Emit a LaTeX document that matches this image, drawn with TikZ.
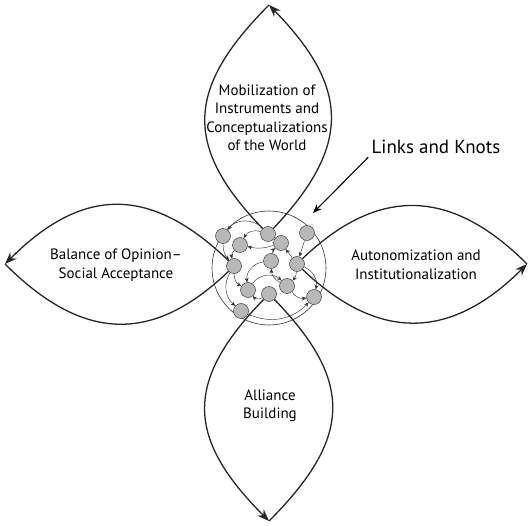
\documentclass[tikz,border=0pt]{standalone}
\usepackage{fontspec}
\setmainfont{PT Sans}
\usetikzlibrary{arrows.meta,backgrounds}
\tikzset{
  knot/.style={circle, draw=black!75, fill=black!28, minimum size=15pt, inner sep=0pt, line width=0.5pt},
  petal/.style={line width=1.3pt, draw=black!85},
  tipped/.style={-{Stealth[length=12pt,width=9pt]}},
  link/.style={line width=0.45pt, draw=black!80, -{Stealth[length=4.5pt,width=4pt]}},
  stage/.style={align=center, font=\fontsize{15}{18.5}\selectfont},
}
\begin{document}
\begin{tikzpicture}[x=1pt,y=-1pt]
  \useasboundingbox (0,0) rectangle (532,526);

  % knots in the middle
  \node[knot] (k1) at (223,236) {};
  \node[knot] (k2) at (268,234) {};
  \node[knot] (k3) at (307,233) {};
  \node[knot] (k4) at (240,245) {};
  \node[knot] (k5) at (281,243) {};
  \node[knot] (k6) at (271,261) {};
  \node[knot] (k7) at (297,264) {};
  \node[knot] (k8) at (234,266) {};
  \node[knot] (k9) at (248,290) {};
  \node[knot] (k10) at (269,294) {};
  \node[knot] (k11) at (287,286) {};
  \node[knot] (k12) at (314,297) {};
  \node[knot] (k13) at (241,311) {};

  \coordinate (tipN) at (269,5);
  \coordinate (tipW) at (5,264);
  \coordinate (tipE) at (527,264);
  \coordinate (tipS) at (269,521);

  \begin{scope}[on background layer]
    \draw[line width=0.6pt, draw=black!80] (269,268) circle[radius=57pt];
    % the four loops
    \draw[petal] (k2.center) .. controls (183,149) and (184,90) .. (tipN);
    \draw[petal,tipped] (k2.center) .. controls (351,149) and (352,90) .. (tipN);
    \draw[petal,tipped] (k8.center) .. controls (154,186) and (85,184) .. (tipW);
    \draw[petal] (k8.center) .. controls (156,344) and (85,344) .. (tipW);
    \draw[petal] (k7.center) .. controls (375,186) and (449,186) .. (tipE);
    \draw[petal,tipped] (k7.center) .. controls (375,342) and (449,342) .. (tipE);
    \draw[petal,tipped] (k10.center) .. controls (184,379) and (184,436) .. (tipS);
    \draw[petal] (k10.center) .. controls (354,379) and (354,436) .. (tipS);
  \end{scope}

  % links between the knots
  \draw[link] (k2) to[bend right=50] (k1);
  \draw[link] (k2) to[bend right=40] (k4);
  \draw[link] (k5) to[bend left=15] (k4);
  \draw[link] (k4) to[bend right=30] (k8);
  \draw[link] (k1) to[bend right=20] (k8);
  \draw[link] (k8) to[bend right=30] (k9);
  \draw[link] (k6) to[bend right=45] (k9);
  \draw[link] (k3) -- (k7);
  \draw[link] (k7) -- (k5);
  \draw[link] (k6) to[bend left=20] (k5);
  \draw[link] (k7) to[bend left=20] (k11);
  \draw[link] (k7) to[bend left=40] (k12);
  \draw[link] (k9) to[bend left=50] (k11);
  \draw[link] (k10) to[bend left=40] (k9);
  \draw[link] (k11) to[bend right=30] (k12);
  \draw[link] (k13) to[bend right=35] (k12);
  \draw[link] (k11) to[bend left=30] (k6);
  \draw[link] (k8) to[bend right=40] (k13);

  % texts
  \node[stage] (mob) at (267,118) {Mobilization of\\Instruments and\\Conceptualizations\\of the World};
  \node[stage] (bal) at (116,265) {Balance of Opinion--\\Social Acceptance};
  \node[stage] (aut) at (416,265) {Autonomization and\\Institutionalization};
  \node[stage] (all) at (270,406) {Alliance\\Building};
  \node[font=\fontsize{19}{22}\selectfont] (lk) at (436,147) {Links and Knots};
  \coordinate (ptr) at (313,213);
  \draw[line width=1.1pt, -{Stealth[length=9pt,width=7pt]}] (lk.south west) -- (ptr);
\end{tikzpicture}
\end{document}
